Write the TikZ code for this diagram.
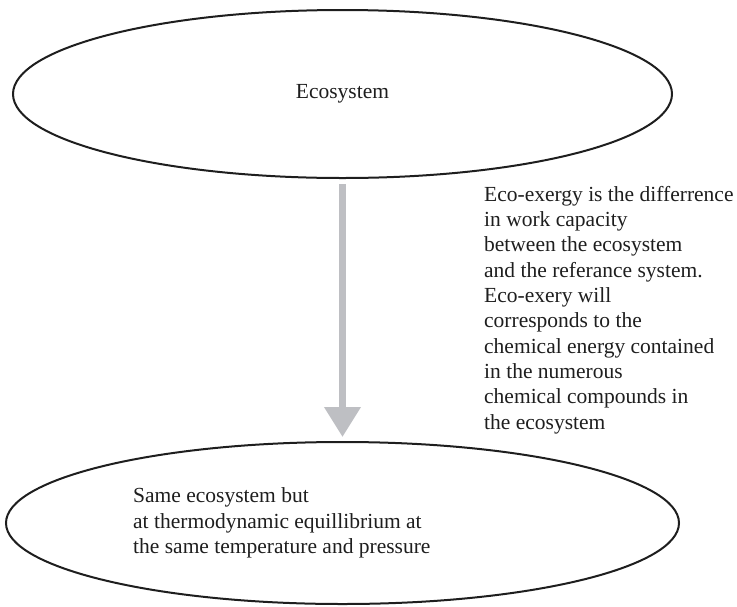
\documentclass[tikz,border=0pt]{standalone}
\usepackage{fontspec}
\setmainfont{Liberation Serif}
\usetikzlibrary{shapes.geometric,arrows.meta}
\definecolor{arrowgray}{RGB}{190,191,195}
\definecolor{inkblack}{RGB}{30,30,30}
\tikzset{
  stateoval/.style={draw=inkblack, line width=2pt, ellipse, inner sep=0pt},
  bodytext/.style={font=\fontsize{21.5pt}{25.3pt}\selectfont, text=inkblack, align=left, inner sep=0pt},
  flowarrow/.style={draw=arrowgray, line width=7pt,
    -{Triangle[width=35pt,length=30pt]}, shorten <=5pt, shorten >=4pt}
}
\begin{document}
\begin{tikzpicture}[x=1pt,y=-1pt]
  \useasboundingbox (0,0) rectangle (737,606);
  % the ecosystem as it is
  \node[stateoval, minimum width=659pt, minimum height=168pt] (eco) at (342.5,94) {};
  \node[bodytext] (ecolabel) at (eco.center) {Ecosystem};
  % the reference state
  \node[stateoval, minimum width=673pt, minimum height=162pt] (ref) at (342.5,523) {};
  \node[bodytext, anchor=west] (reflabel) at (133,523)
    {Same ecosystem but\\at thermodynamic equillibrium at\\the same temperature and pressure};
  % transition from ecosystem to reference
  \draw[flowarrow] (eco.south) -- (ref.north);
  % explanation beside the arrow
  \node[bodytext, anchor=north west] (explain) at (484,186)
    {Eco-exergy is the differrence\\in work capacity\\between the ecosystem\\and the referance system.\\Eco-exery will\\corresponds to the\\chemical energy contained\\in the numerous\\chemical compounds in\\the ecosystem};
\end{tikzpicture}
\end{document}
